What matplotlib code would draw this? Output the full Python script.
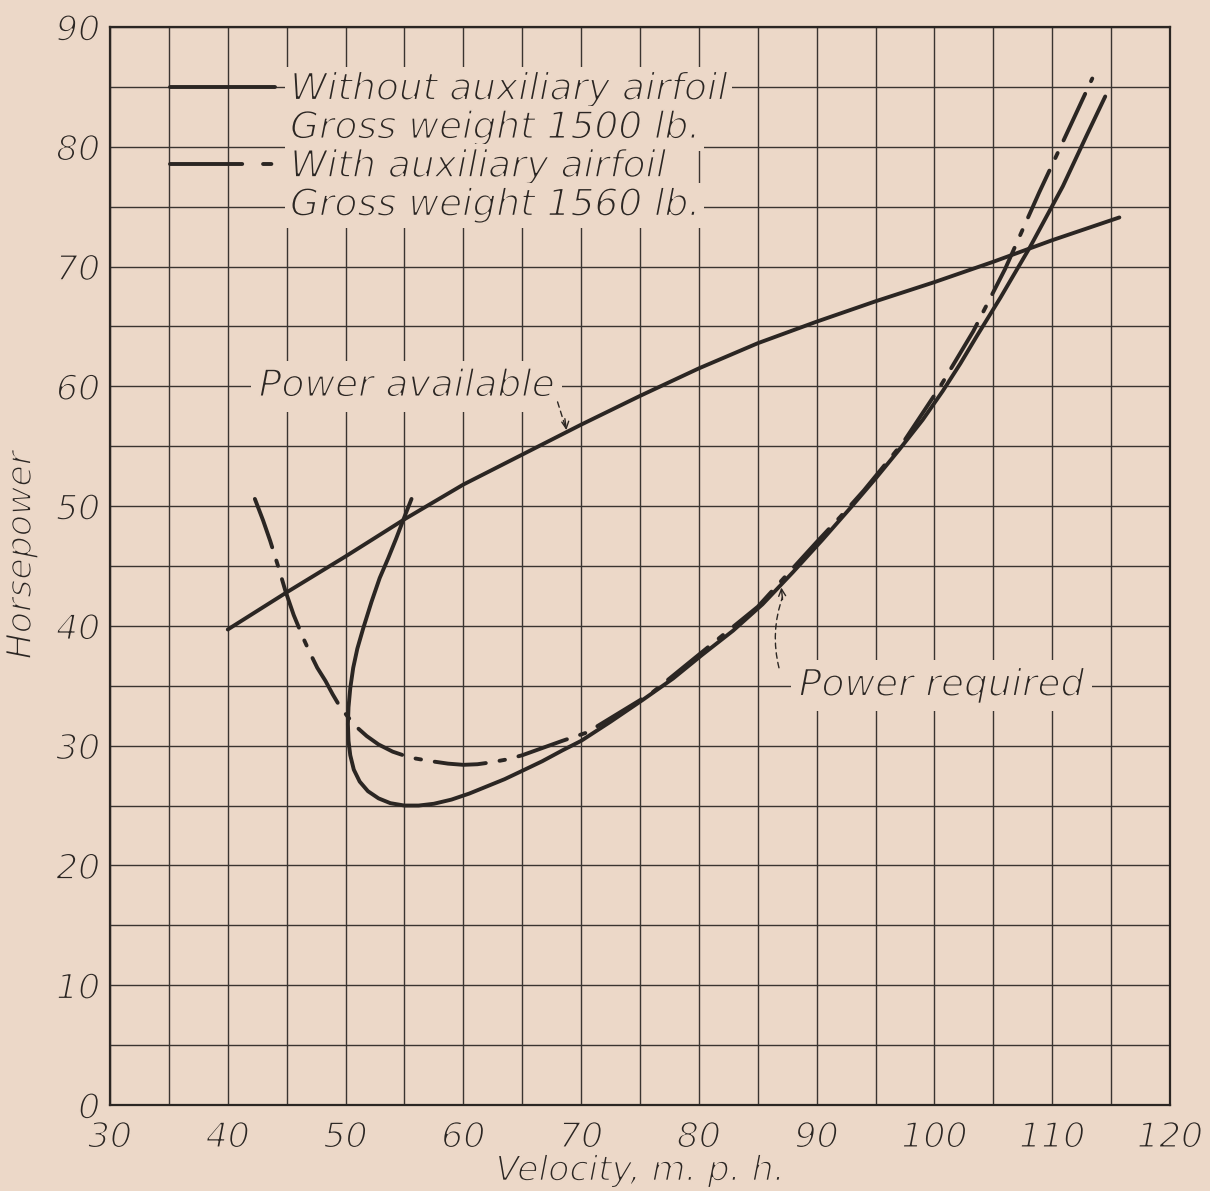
import matplotlib
matplotlib.use("Agg")
import matplotlib.pyplot as plt
from matplotlib.lines import Line2D
from matplotlib import patheffects as pe
from matplotlib.ticker import MultipleLocator

# ---------------- data ----------------
# Power available
pa_v = [40, 45, 50, 55, 60, 65, 70, 75, 80, 85, 90, 95, 100, 105, 110, 115.7]
pa_hp = [39.7, 42.8, 45.8, 48.9, 51.8, 54.3, 56.8, 59.2, 61.5, 63.6, 65.4, 67.1,
         68.7, 70.4, 72.2, 74.1]

# Power required, without auxiliary airfoil (gross weight 1500 lb)
wo_v = [55.6, 55.0, 54.3, 53.6, 52.9, 52.2, 51.5, 51.0, 50.65, 50.4, 50.25,
        50.2, 50.25, 50.4, 50.7, 51.2, 51.9, 52.8, 53.8, 55.0, 56.2, 57.5,
        59.0, 60.5, 62.0, 63.5, 65.0, 66.7, 68.4, 70.0, 72.5, 75.2, 77.8, 80.3,
        82.9, 85.4, 88.0, 90.5, 93.0, 95.0, 97.0, 99.0, 100.7, 102.2, 103.6,
        105.6, 108.1, 110.9, 112.9, 114.5]
wo_hp = [50.6, 49.1, 47.3, 45.6, 44.0, 42.0, 39.8, 38.1, 36.5, 34.8, 33.2,
         31.8, 30.4, 29.2, 28.0, 27.0, 26.2, 25.6, 25.2, 25.0, 25.0, 25.15,
         25.5, 26.0, 26.6, 27.2, 27.9, 28.7, 29.6, 30.4, 32.0, 33.8, 35.6, 37.6,
         39.6, 41.8, 44.5, 47.2, 50.0, 52.3, 54.7, 57.2, 59.6, 61.9, 64.2,
         67.4, 71.6, 76.7, 80.9, 84.2]

# Power required, with auxiliary airfoil (gross weight 1560 lb)
w_v = [42.3, 43.0, 43.6, 44.3, 44.9, 45.6, 46.4, 47.0, 47.6, 48.3, 48.9, 49.5,
       50.2, 51.0, 51.8, 52.8, 54.0, 55.5, 57.3, 58.7, 60.0, 61.2, 62.3, 63.7,
       65.0, 66.7, 68.4, 70.5, 73.0, 76.0, 80.0, 85.0, 90.0, 92.0, 94.0, 96.0,
       97.4, 100.5, 103.3, 106.0, 108.9, 110.9, 113.4]
w_hp = [50.6, 48.8, 47.1, 44.9, 42.9, 40.9, 39.0, 37.7, 36.5, 35.4, 34.3, 33.3,
        32.4, 31.5, 30.8, 30.1, 29.5, 29.0, 28.7, 28.5, 28.4, 28.45, 28.6, 28.85,
        29.2, 29.8, 30.4, 31.1, 32.6, 34.4, 37.6, 41.6, 47.0, 49.1, 51.3, 53.7,
        55.4, 60.0, 64.6, 69.8, 76.2, 80.4, 85.7]

x_ticks = [30, 40, 50, 60, 70, 80, 90, 100, 110, 120]
y_ticks = [0, 10, 20, 30, 40, 50, 60, 70, 80, 90]

legend_labels = ["Without auxiliary airfoil", "Gross weight 1500 lb.",
                 "With auxiliary airfoil", "Gross weight 1560 lb."]

# ---------------- style ----------------
BG = "#ecd8c8"
INK = "#2b2623"
GRID = "#3a3430"
FS = 27          # annotation / legend text
FS_TICK = 25
FS_LAB = 25

plt.rcParams["lines.scale_dashes"] = False
plt.rcParams["font.family"] = ["DejaVu Sans"]
thin = [pe.Normal(), pe.Stroke(linewidth=1.2, foreground=BG)]

fig = plt.figure(figsize=(12.10, 11.91), dpi=100, facecolor=BG)
ax = fig.add_axes([110/1210, 1-1105/1191, 1060/1210, 1078/1191])
ax.set_facecolor(BG)

ax.set_xlim(30, 120)
ax.set_ylim(0, 90)
ax.xaxis.set_minor_locator(MultipleLocator(5))
ax.yaxis.set_minor_locator(MultipleLocator(5))
ax.set_xticks(x_ticks)
ax.set_yticks(y_ticks)
ax.set_xticklabels([str(v) for v in x_ticks])
ax.set_yticklabels([str(v) for v in y_ticks])
ax.grid(which="both", color=GRID, lw=1.0, zorder=0)
ax.set_axisbelow(True)
ax.tick_params(which="both", length=0)
ax.tick_params(axis="x", pad=11)
ax.tick_params(axis="y", pad=7)
for s in ax.spines.values():
    s.set_color(INK)
    s.set_linewidth(1.6)

for lab in ax.get_xticklabels() + ax.get_yticklabels():
    lab.set_fontsize(FS_TICK)
    lab.set_fontstyle("italic")
    lab.set_color(INK)
    lab.set_path_effects(thin)

# ---------------- curves ----------------
lw = 2.8
ax.plot(pa_v, pa_hp, color=INK, lw=lw, solid_capstyle="round",
        solid_joinstyle="round", zorder=3)
ax.plot(wo_v, wo_hp, color=INK, lw=lw, solid_capstyle="round",
        solid_joinstyle="round", zorder=3)
ax.plot(w_v, w_hp, color=INK, lw=lw, dashes=(37, 10, 4, 10),
        dash_capstyle="round", dash_joinstyle="round", zorder=4)

# ---------------- legend ----------------
h_solid = Line2D([], [], color=INK, lw=lw, solid_capstyle="round")
h_dash = Line2D([], [], color=INK, lw=lw, dashes=(52, 15, 6, 40),
                dash_capstyle="round")
h_none = Line2D([], [], color="none", lw=0)
leg = ax.legend([h_solid, h_none, h_dash, h_none], legend_labels,
                loc="upper left", bbox_to_anchor=(0.0566, 0.9585),
                frameon=False, borderpad=0, borderaxespad=0,
                handlelength=2.8, handletextpad=0.4, labelspacing=0.07,
                prop=dict(size=FS, style="italic"))
for t in leg.get_texts():
    t.set_color(INK)
    t.set_path_effects(thin)
    t.set_bbox(dict(boxstyle="square,pad=0.12", fc=BG, ec="none"))

# ---------------- annotations ----------------
tb = dict(boxstyle="square,pad=0.2", fc=BG, ec="none")
t1 = ax.text(55.2, 60.0, "Power available", fontsize=FS, style="italic",
             color=INK, ha="center", va="center", bbox=tb, zorder=5)
t1.set_path_effects(thin)
ax.annotate("", xy=(68.7, 56.5), xytext=(68.0, 58.7),
            arrowprops=dict(arrowstyle="-", lw=1.0, color=INK, ls=(0, (4, 3)),
                            shrinkA=0, shrinkB=0), zorder=5)
ax.annotate("", xy=(68.75, 56.35), xytext=(68.62, 57.3),
            arrowprops=dict(arrowstyle="->,head_length=0.5,head_width=0.25",
                            lw=1.0, color=INK, shrinkA=0, shrinkB=0), zorder=5)

t2 = ax.text(100.6, 35.0, "Power required", fontsize=FS, style="italic",
             color=INK, ha="center", va="center", bbox=tb, zorder=5)
t2.set_path_effects(thin)
ax.annotate("", xy=(87.1, 42.4), xytext=(86.8, 36.5),
            arrowprops=dict(arrowstyle="-", lw=1.0, color=INK, ls=(0, (4, 3)),
                            connectionstyle="arc3,rad=-0.15",
                            shrinkA=0, shrinkB=0), zorder=5)
ax.annotate("", xy=(87.0, 43.2), xytext=(87.1, 42.2),
            arrowprops=dict(arrowstyle="->,head_length=0.5,head_width=0.25",
                            lw=1.0, color=INK, shrinkA=0, shrinkB=0), zorder=5)

# ---------------- axis labels ----------------
xl = ax.set_xlabel("Velocity, m. p. h.", fontsize=FS_LAB, style="italic",
                   color=INK)
yl = ax.set_ylabel("Horsepower", fontsize=FS_LAB, style="italic", color=INK)
xl.set_path_effects(thin)
yl.set_path_effects(thin)
ax.xaxis.set_label_coords(0.5, -0.045)
ax.yaxis.set_label_coords(-0.068, 0.51)

fig.savefig("out.png", dpi=100, facecolor=BG)
